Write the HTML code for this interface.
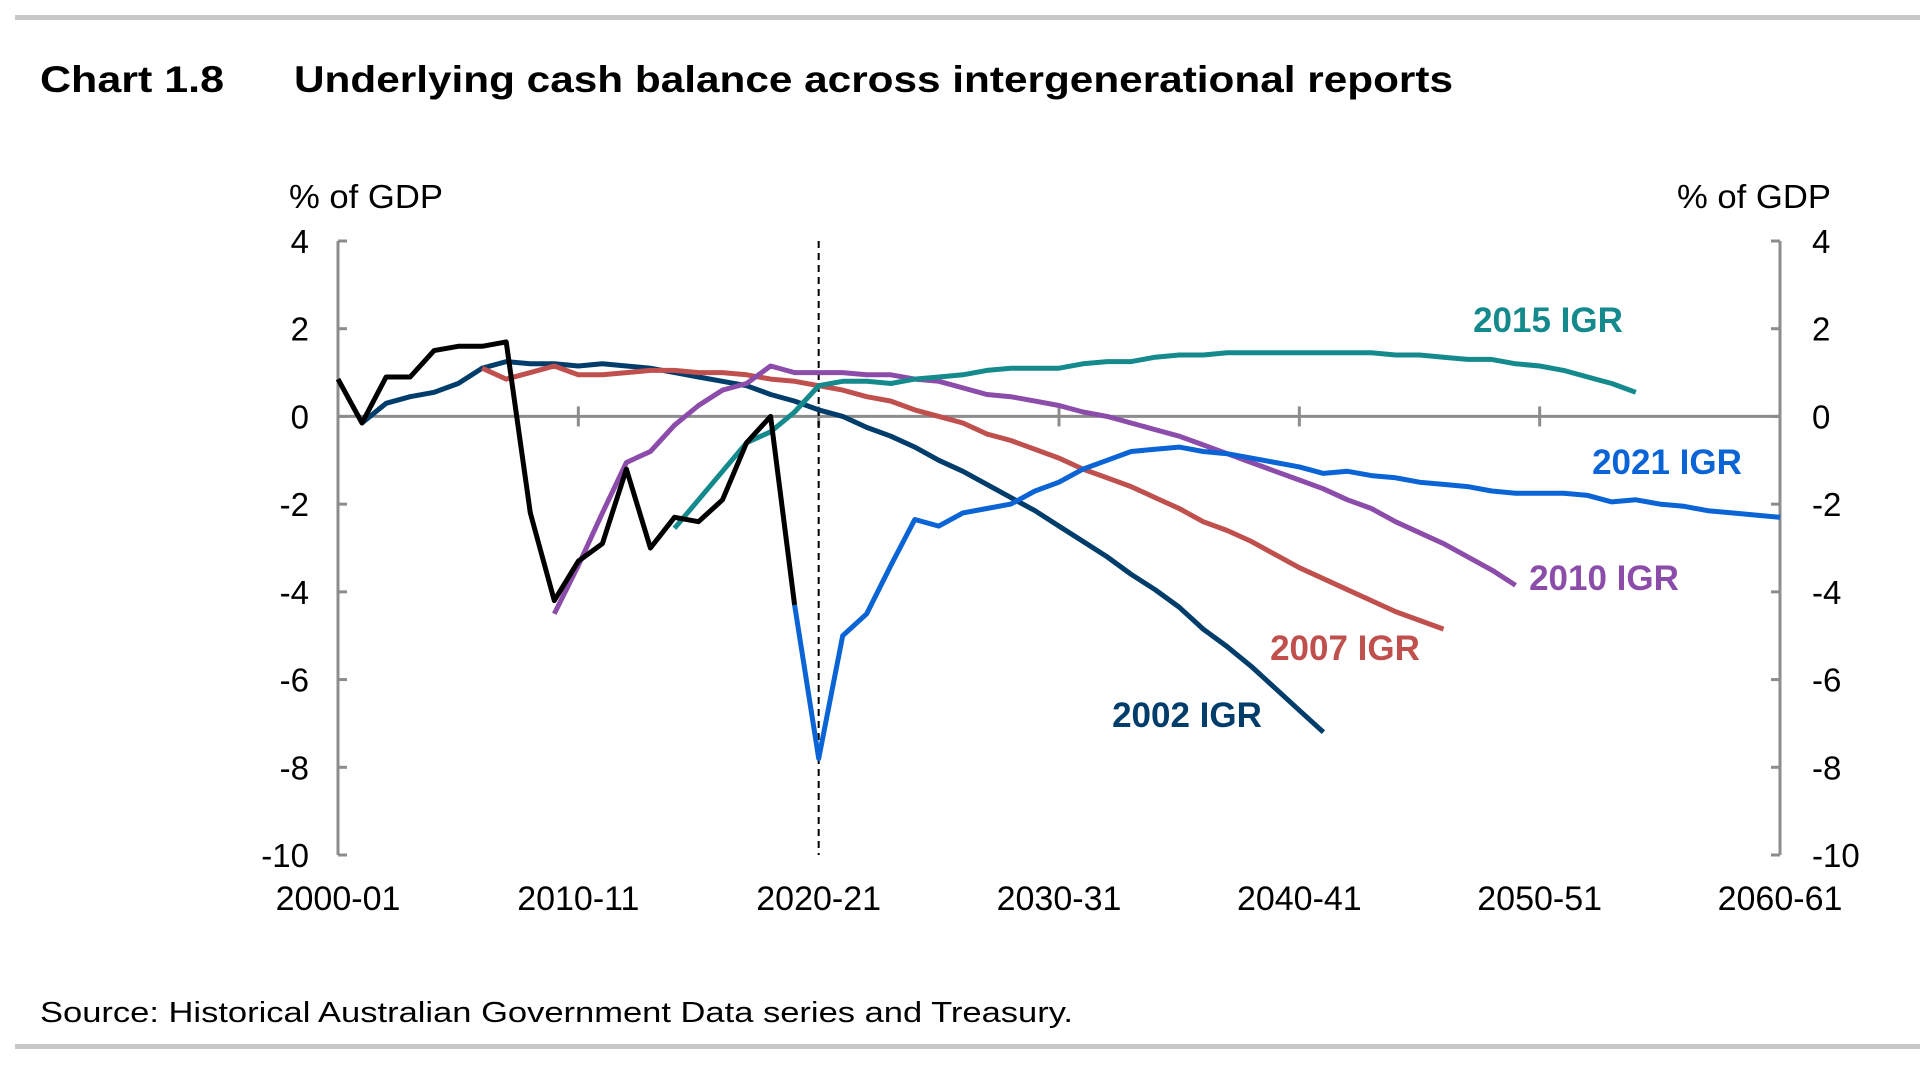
<!DOCTYPE html>
<html><head><meta charset="utf-8"><style>
html,body{margin:0;padding:0;background:#fff;}
svg{display:block;font-family:"Liberation Sans",Arial,sans-serif;}
</style></head><body>
<svg id="chart" width="1920" height="1071" viewBox="0 0 1920 1071" xmlns="http://www.w3.org/2000/svg">
<rect x="15" y="15" width="1905" height="5" fill="#c8c8c8"/>
<rect x="15" y="1044" width="1905" height="5" fill="#c8c8c8"/>
<text x="40" y="92" font-size="37" font-weight="bold" textLength="184" lengthAdjust="spacingAndGlyphs">Chart 1.8</text>
<text x="294" y="92" font-size="37" font-weight="bold" textLength="1159" lengthAdjust="spacingAndGlyphs">Underlying cash balance across intergenerational reports</text>
<text x="40" y="1022" font-size="29" textLength="1033" lengthAdjust="spacingAndGlyphs">Source: Historical Australian Government Data series and Treasury.</text>
<text x="289" y="208" font-size="33" textLength="154" lengthAdjust="spacingAndGlyphs">% of GDP</text>
<text x="1677" y="208" font-size="33" textLength="154" lengthAdjust="spacingAndGlyphs">% of GDP</text>
<g id="axes"></g>
<g id="series"></g>
<g id="labels"></g>
</svg>
<script>
const yTicks = [4, 2, 0, -2, -4, -6, -8, -10];
const xTickYears = [0, 10, 20, 30, 40, 50, 60];
const xTickLabels = ["2000-01", "2010-11", "2020-21", "2030-31", "2040-41", "2050-51", "2060-61"];
const actualStart = 0;
const actualValues = [0.85,-0.15,0.9,0.9,1.5,1.6,1.6,1.7,-2.2,-4.2,-3.3,-2.9,-1.2,-3.0,-2.3,-2.4,-1.9,-0.6,0.0,-4.3];
const igr2002Start = 1;
const igr2002Values = [-0.15,0.3,0.45,0.55,0.75,1.1,1.25,1.2,1.2,1.15,1.2,1.15,1.1,1.0,0.9,0.8,0.7,0.5,0.35,0.15,0.0,-0.25,-0.45,-0.7,-1.0,-1.25,-1.55,-1.85,-2.15,-2.5,-2.85,-3.2,-3.6,-3.95,-4.35,-4.85,-5.25,-5.7,-6.2,-6.7,-7.2];
const igr2007Start = 6;
const igr2007Values = [1.1,0.85,1.0,1.15,0.95,0.95,1.0,1.05,1.05,1.0,1.0,0.95,0.85,0.8,0.7,0.6,0.45,0.35,0.15,0.0,-0.15,-0.4,-0.55,-0.75,-0.95,-1.2,-1.4,-1.6,-1.85,-2.1,-2.4,-2.6,-2.85,-3.15,-3.45,-3.7,-3.95,-4.2,-4.45,-4.65,-4.85];
const igr2010Start = 9;
const igr2010Values = [-4.5,-3.4,-2.2,-1.05,-0.8,-0.2,0.25,0.6,0.75,1.15,1.0,1.0,1.0,0.95,0.95,0.85,0.8,0.65,0.5,0.45,0.35,0.25,0.1,0.0,-0.15,-0.3,-0.45,-0.65,-0.85,-1.05,-1.25,-1.45,-1.65,-1.9,-2.1,-2.4,-2.65,-2.9,-3.2,-3.5,-3.85];
const igr2015Start = 14;
const igr2015Values = [-2.55,-1.9,-1.25,-0.6,-0.35,0.1,0.7,0.8,0.8,0.75,0.85,0.9,0.95,1.05,1.1,1.1,1.1,1.2,1.25,1.25,1.35,1.4,1.4,1.45,1.45,1.45,1.45,1.45,1.45,1.45,1.4,1.4,1.35,1.3,1.3,1.2,1.15,1.05,0.9,0.75,0.55];
const igr2021Start = 19;
const igr2021Values = [-4.3,-7.8,-5.0,-4.5,-3.4,-2.35,-2.5,-2.2,-2.1,-2.0,-1.7,-1.5,-1.2,-1.0,-0.8,-0.75,-0.7,-0.8,-0.85,-0.95,-1.05,-1.15,-1.3,-1.25,-1.35,-1.4,-1.5,-1.55,-1.6,-1.7,-1.75,-1.75,-1.75,-1.8,-1.95,-1.9,-2.0,-2.05,-2.15,-2.2,-2.25,-2.3];

const NS = "http://www.w3.org/2000/svg";
const X0 = 338, X1 = 1780, Y_TOP = 241, Y_BOT = 855;
function xScale(yr){ return X0 + (X1 - X0) * yr / 60; }
function yScale(v){ return Y_TOP + (4 - v) * (Y_BOT - Y_TOP) / 14; }
function mk(tag, attrs, parent){ const e = document.createElementNS(NS, tag); for (const k in attrs) e.setAttribute(k, attrs[k]); parent.appendChild(e); return e; }

const axes = document.getElementById('axes');
const gray = "#8c8c8c";
let el;
el = mk('line', {x1:X0, y1:Y_TOP, x2:X0, y2:Y_BOT, stroke:gray, 'stroke-width':3}, axes);


el = mk('line', {x1:X1, y1:Y_TOP, x2:X1, y2:Y_BOT, stroke:gray, 'stroke-width':3}, axes);


el = mk('line', {x1:X0, y1:yScale(0), x2:X1, y2:yScale(0), stroke:gray, 'stroke-width':3}, axes);


yTicks.forEach(v => {
  const y = yScale(v);
  el = mk('line', {x1:X0, y1:y, x2:X0+9, y2:y, stroke:gray, 'stroke-width':3}, axes);
  
  
  el = mk('line', {x1:X1-9, y1:y, x2:X1, y2:y, stroke:gray, 'stroke-width':3}, axes);
  
  
  el = mk('text', {x:309, y:y+12, 'font-size':33, 'text-anchor':'end'}, axes);
  el.textContent = String(v);
  
  
  el = mk('text', {x:1812, y:y+12, 'font-size':33, 'text-anchor':'start'}, axes);
  el.textContent = String(v);
  
  
});
xTickYears.forEach((yr, i) => {
  const x = xScale(yr);
  el = mk('line', {x1:x, y1:yScale(0)-10, x2:x, y2:yScale(0)+10, stroke:gray, 'stroke-width':3}, axes);
  
  
  el = mk('text', {x:x, y:910, 'font-size':34, 'text-anchor':'middle'}, axes);
  el.textContent = xTickLabels[i];
  
  
});
el = mk('line', {x1:xScale(20), y1:Y_TOP, x2:xScale(20), y2:Y_BOT, stroke:'#000', 'stroke-width':2, 'stroke-dasharray':'7,5'}, axes);



const series = document.getElementById('series');
function drawLine(start, vals, color, name){
  const pts = vals.map((v, i) => xScale(start + i).toFixed(1) + ',' + yScale(v).toFixed(1)).join(' ');
  const p = mk('polyline', {points:pts, fill:'none', stroke:color, 'stroke-width':5, 'stroke-linejoin':'round'}, series);
  
  
}
drawLine(igr2002Start, igr2002Values, '#003d6b', 'line-2002-igr');
drawLine(igr2007Start, igr2007Values, '#c0504d', 'line-2007-igr');
drawLine(igr2010Start, igr2010Values, '#8c4caa', 'line-2010-igr');
drawLine(igr2015Start, igr2015Values, '#158a8c', 'line-2015-igr');
drawLine(igr2021Start, igr2021Values, '#0a64d6', 'line-2021-igr');
drawLine(actualStart, actualValues, '#000000', 'line-actual');

const labels = document.getElementById('labels');
function lab(txt, x, y, color, name){
  const t = mk('text', {x:x, y:y, 'font-size':35, 'font-weight':'bold', fill:color, 'text-anchor':'middle'}, labels);
  t.textContent = txt;
  
  
}
lab('2015 IGR', 1548, 332, '#158a8c', 'label-2015-igr');
lab('2021 IGR', 1667, 474, '#0a64d6', 'label-2021-igr');
lab('2010 IGR', 1604, 590, '#8c4caa', 'label-2010-igr');
lab('2007 IGR', 1345, 660, '#c0504d', 'label-2007-igr');
lab('2002 IGR', 1187, 727, '#003d6b', 'label-2002-igr');
</script>
</body></html>
